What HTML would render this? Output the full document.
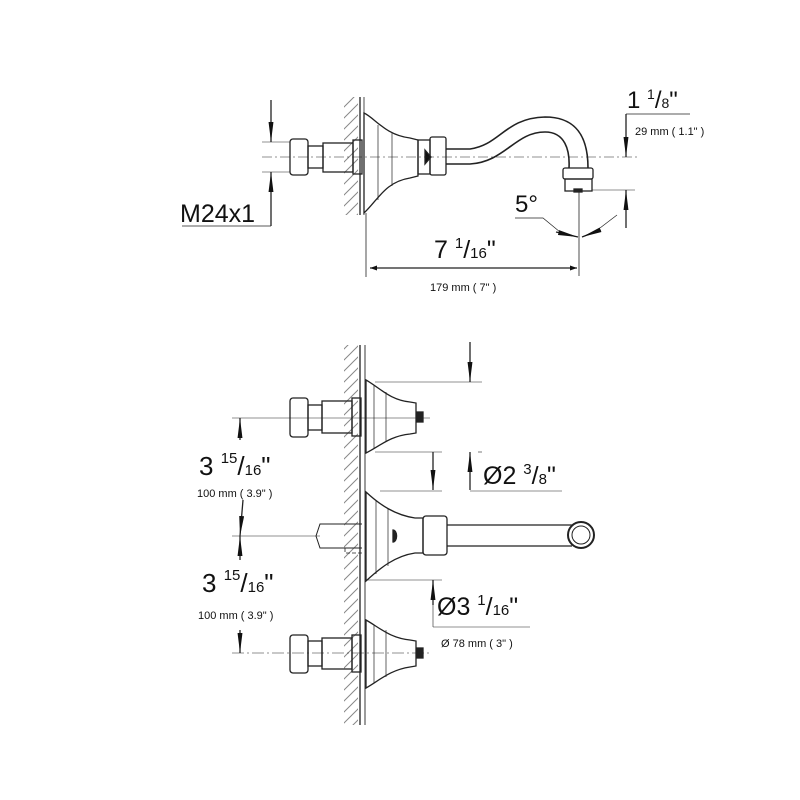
<!DOCTYPE html>
<html><head><meta charset="utf-8"><style>
html,body{margin:0;padding:0;background:#fff}
svg{display:block}
text{font-family:"Liberation Sans",Arial,sans-serif;fill:#111}
</style></head><body>
<svg width="800" height="800" viewBox="0 0 800 800" xmlns="http://www.w3.org/2000/svg">
<defs>
<pattern id="h" width="11" height="11" patternUnits="userSpaceOnUse">
<path d="M0 11 L11 0 M-2 2 L2 -2 M9 13 L13 9" stroke="#888" stroke-width="1"/>
</pattern>
<marker id="a" viewBox="0 0 10 10" refX="10" refY="5" markerWidth="7" markerHeight="7" orient="auto-start-reverse" markerUnits="userSpaceOnUse">
<path d="M0 1.5 L10 5 L0 8.5 z" fill="#111"/></marker>
<marker id="v" viewBox="0 0 10 10" refX="10" refY="5" markerWidth="20" markerHeight="7" orient="auto" markerUnits="userSpaceOnUse" preserveAspectRatio="none">
<path d="M0 1.5 L10 5 L0 8.5 z" fill="#111"/></marker>
</defs>
<g fill="none" stroke="#222" stroke-width="1.3">
<!-- TOP WALL -->
<rect x="344" y="97" width="14" height="118" fill="url(#h)" stroke="none"/>
<line x1="360" y1="97" x2="360" y2="215"/>
<line x1="364" y1="97" x2="364" y2="215" stroke-width="0.8"/>
<!-- inlet -->
<rect x="290" y="139" width="18" height="36" rx="3"/>
<rect x="308" y="146" width="15" height="22"/>
<rect x="323" y="143" width="30" height="29"/>
<rect x="353" y="140" width="9" height="34"/>
<!-- escutcheon -->
<path d="M364 113 C375 118 385 135 410 138 L418 140 L418 176 L410 178 C385 182 378 200 364 213 Z"/>
<line x1="378" y1="125" x2="378" y2="200" stroke-width="0.7"/>
<line x1="392" y1="133" x2="392" y2="186" stroke-width="0.7"/>
<rect x="418" y="140" width="12" height="34"/>
<rect x="430" y="137" width="16" height="38" rx="2"/>
<path d="M425 150 L431 157 L425 164 Z" fill="#111"/>
<!-- spout -->
<path d="M446 149 L470 149 C500 145 505 118 545 117 C575 117 588 135 588 168" stroke-width="1.6"/>
<path d="M446 164 L470 164 C505 162 515 132 545 132 C565 132 570 150 569 168" stroke-width="1.6"/>
<rect x="563" y="168" width="30" height="11" rx="2"/>
<rect x="565" y="179" width="27" height="12"/>
<rect x="574" y="189" width="8" height="3" fill="#222"/>
<!-- centerline -->
<line x1="262" y1="157" x2="640" y2="157" stroke-width="0.6" stroke-dasharray="10 3 2 3"/>
<!-- M24x1 -->
<line x1="262" y1="142" x2="290" y2="142" stroke-width="0.6"/>
<line x1="262" y1="172" x2="290" y2="172" stroke-width="0.6"/>
<line x1="271" y1="100" x2="271" y2="142" marker-end="url(#v)"/>
<line x1="271" y1="226" x2="271" y2="172" marker-end="url(#v)"/>
<line x1="182" y1="226" x2="271" y2="226" stroke-width="0.7"/>
<!-- 1 1/8 -->
<line x1="626" y1="114" x2="690" y2="114" stroke-width="0.7"/>
<line x1="626" y1="114" x2="626" y2="157" marker-end="url(#v)"/>
<line x1="592" y1="190" x2="635" y2="190" stroke-width="0.6"/>
<line x1="626" y1="228" x2="626" y2="190" marker-end="url(#v)"/>
<!-- 5 deg -->
<line x1="579" y1="192" x2="579" y2="276" stroke-width="0.8"/>
<path d="M515 218 L543 218 L560 232" stroke-width="0.7"/>
<line x1="556" y1="232" x2="578" y2="237" marker-end="url(#v)"/>
<line x1="600" y1="230" x2="582" y2="237" marker-end="url(#v)"/>
<line x1="600" y1="228" x2="617" y2="215" stroke-width="0.7"/>
<!-- 7 1/16 -->
<line x1="366" y1="213" x2="366" y2="277" stroke-width="0.8"/>
<line x1="370" y1="268" x2="577" y2="268" marker-start="url(#a)" marker-end="url(#a)"/>

<!-- BOTTOM WALL -->
<rect x="344" y="345" width="14" height="380" fill="url(#h)" stroke="none"/>
<line x1="360" y1="345" x2="360" y2="725"/>
<line x1="365" y1="345" x2="365" y2="725" stroke-width="0.9"/>
<!-- upper valve -->
<rect x="290" y="398" width="18" height="39" rx="3"/>
<rect x="308" y="405" width="14" height="25"/>
<rect x="322" y="401" width="30" height="32"/>
<rect x="352" y="398" width="9" height="38"/>
<path d="M366 380 C380 388 390 400 410 402 L416 403 L416 433 L410 434 C390 436 380 446 366 453 Z"/>
<line x1="374" y1="385" x2="374" y2="448" stroke-width="0.7"/>
<line x1="386" y1="392" x2="386" y2="442" stroke-width="0.7"/>
<rect x="417" y="412" width="6" height="10" fill="#222"/>
<!-- middle spout -->
<path d="M362 524 L320 524 L316 536 L320 548 L362 548" stroke-width="1"/>
<path d="M345 548 L345 553 L362 553" stroke-width="0.8" stroke-dasharray="4 2"/>
<path d="M366 492 C380 505 395 515 415 518 L423 518 L423 553 L415 553 C395 556 380 568 366 581 Z"/>
<line x1="376" y1="500" x2="376" y2="574" stroke-width="0.7"/>
<line x1="388" y1="508" x2="388" y2="566" stroke-width="0.7"/>
<path d="M393 530 a3 5 0 0 1 0 12 z" fill="#222"/>
<rect x="423" y="516" width="24" height="39" rx="3"/>
<path d="M447 525 L572 525 M447 546 L572 546"/>
<circle cx="581" cy="535" r="13" stroke-width="2"/>
<circle cx="581" cy="535" r="9" stroke-width="1"/>
<!-- lower valve -->
<rect x="290" y="635" width="18" height="38" rx="3"/>
<rect x="308" y="641" width="14" height="25"/>
<rect x="322" y="638" width="30" height="31"/>
<rect x="352" y="635" width="9" height="37"/>
<path d="M366 620 C380 628 390 638 410 640 L416 641 L416 666 L410 667 C390 670 380 680 366 688 Z"/>
<line x1="374" y1="625" x2="374" y2="683" stroke-width="0.7"/>
<line x1="386" y1="630" x2="386" y2="677" stroke-width="0.7"/>
<rect x="417" y="648" width="6" height="10" fill="#222"/>
<!-- centerlines -->
<line x1="232" y1="418" x2="430" y2="418" stroke-width="0.6"/>
<line x1="232" y1="536" x2="320" y2="536" stroke-width="0.6"/>
<line x1="232" y1="653" x2="430" y2="653" stroke-width="0.6" stroke-dasharray="12 3 2 3"/>
<!-- 3 15/16 dims -->
<line x1="240" y1="440" x2="240" y2="418" marker-end="url(#v)"/>
<line x1="243" y1="500" x2="240" y2="536" marker-end="url(#v)"/>
<line x1="240" y1="560" x2="240" y2="536" marker-end="url(#v)"/>
<line x1="240" y1="630" x2="240" y2="653" marker-end="url(#v)"/>
<!-- Ø2 3/8 -->
<line x1="375" y1="382" x2="482" y2="382" stroke-width="0.6"/>
<line x1="470" y1="342" x2="470" y2="382" marker-end="url(#v)"/>
<line x1="375" y1="452" x2="442" y2="452" stroke-width="0.6"/>
<line x1="478" y1="452" x2="482" y2="452" stroke-width="0.6"/>
<line x1="433" y1="452" x2="433" y2="490" marker-end="url(#v)"/>
<line x1="470" y1="490" x2="470" y2="452" marker-end="url(#v)"/>
<line x1="380" y1="491" x2="442" y2="491" stroke-width="0.6"/>
<line x1="470" y1="491" x2="562" y2="491" stroke-width="0.6"/>
<!-- Ø3 1/16 -->
<line x1="366" y1="580" x2="442" y2="580" stroke-width="0.6"/>
<line x1="433" y1="605" x2="433" y2="580" marker-end="url(#v)"/>
<line x1="433" y1="605" x2="433" y2="627" stroke-width="0.6"/>
<line x1="433" y1="627" x2="530" y2="627" stroke-width="0.6"/>
</g>
<!-- TEXT -->
<text x="180" y="222" font-size="25">M24x1</text>
<text x="627" y="108" font-size="24">1 <tspan font-size="14" dy="-9">1</tspan><tspan dy="9">/</tspan><tspan font-size="14">8</tspan>"</text>
<text x="635" y="135" font-size="11">29 mm ( 1.1" )</text>
<text x="515" y="212" font-size="24">5°</text>
<text x="434" y="258" font-size="25">7 <tspan font-size="15" dy="-10">1</tspan><tspan dy="10">/</tspan><tspan font-size="15">16</tspan>"</text>
<text x="430" y="291" font-size="11">179 mm ( 7" )</text>
<text x="199" y="475" font-size="26">3 <tspan font-size="15" dy="-12">15</tspan><tspan dy="12">/</tspan><tspan font-size="15">16</tspan>"</text>
<text x="197" y="497" font-size="11" fill="#555">100 mm ( 3.9" )</text>
<text x="202" y="592" font-size="26">3 <tspan font-size="15" dy="-12">15</tspan><tspan dy="12">/</tspan><tspan font-size="15">16</tspan>"</text>
<text x="198" y="619" font-size="11">100 mm ( 3.9" )</text>
<text x="483" y="484" font-size="25">Ø2 <tspan font-size="15" dy="-10">3</tspan><tspan dy="10">/</tspan><tspan font-size="15">8</tspan>"</text>
<text x="437" y="615" font-size="25">Ø3 <tspan font-size="15" dy="-10">1</tspan><tspan dy="10">/</tspan><tspan font-size="15">16</tspan>"</text>
<text x="441" y="647" font-size="11">Ø 78 mm ( 3" )</text>
</svg>
</body></html>
